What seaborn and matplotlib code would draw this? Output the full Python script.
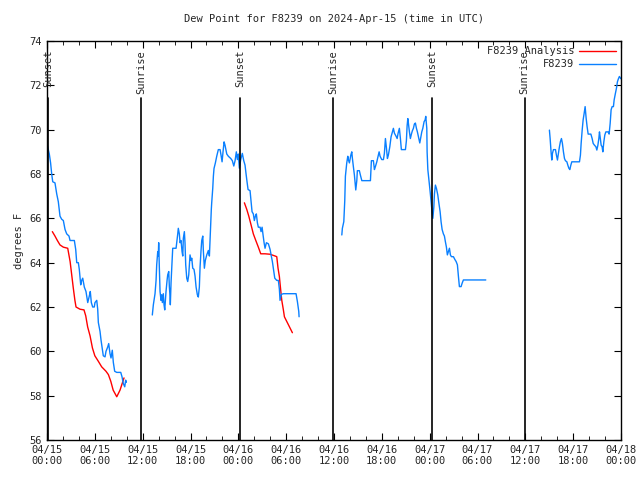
import numpy as np
import pandas as pd
import matplotlib
matplotlib.use("Agg")
import matplotlib.pyplot as plt
import matplotlib.dates as mdates
from matplotlib.lines import Line2D
import seaborn as sns

# hours after 2024-04-15 00:00 UTC, dew point in deg F
obs1_hours = [0.04, 0.29, 0.45, 0.59, 0.72, 1.00, 1.22, 1.42, 1.63, 1.84, 2.05, 2.26, 2.47, 2.76, 2.89,
              3.43, 3.60, 3.73, 3.93, 4.05, 4.23, 4.35, 4.48, 4.68, 4.89, 5.11, 5.31, 5.43, 5.56, 5.73,
              5.93, 6.02, 6.24, 6.36, 6.44, 6.65, 6.78, 6.90, 7.06, 7.28, 7.40, 7.62, 7.74, 7.90, 8.03,
              8.19, 8.32, 8.49, 8.75, 9.25, 9.41, 9.57, 9.75, 9.87, 9.95]
obs1_vals = [69.3, 68.9, 68.5, 68.0, 67.65, 67.6, 67.1, 66.75, 66.1, 65.96, 65.9, 65.5, 65.3, 65.2, 65.0,
             65.0, 64.6, 64.0, 64.0, 63.7, 63.0, 63.2, 63.3, 62.9, 62.7, 62.2, 62.5, 62.7, 62.2, 62.0,
             62.0, 62.2, 62.3, 61.9, 61.3, 60.9, 60.5, 60.2, 59.8, 59.75, 60.0, 60.2, 60.35, 59.9, 59.7,
             60.05, 59.5, 59.1, 59.05, 59.05, 58.85, 58.55, 58.4, 58.7, 58.6]

obs2_hours = [13.21, 13.34, 13.55, 13.68, 13.76, 13.89, 13.96, 14.01, 14.09, 14.18, 14.30, 14.39, 14.47,
              14.59, 14.68, 14.77, 14.89, 14.93, 15.06, 15.14, 15.27, 15.35, 15.43, 15.47, 15.56, 15.68,
              15.77, 16.19, 16.27, 16.40, 16.47, 16.60, 16.69, 16.81, 16.94, 17.03, 17.10, 17.23, 17.31,
              17.40, 17.53, 17.65, 17.78, 17.94, 18.07, 18.16, 18.28, 18.44, 18.57, 18.70, 18.86, 18.98,
              19.11, 19.20, 19.32, 19.41, 19.54, 19.61, 19.74, 19.86, 20.04, 20.24, 20.37, 20.45, 20.61,
              20.66, 20.79, 20.87, 20.95, 21.12, 21.29, 21.49, 21.71, 21.83, 21.96, 22.08, 22.21, 22.33,
              22.55, 22.75, 23.05, 23.25, 23.43, 23.59, 23.75, 23.88, 24.00, 24.13, 24.30, 24.50, 24.68,
              24.84, 24.97, 25.09, 25.22, 25.47, 25.60, 25.72, 25.88, 26.01, 26.14, 26.26, 26.39, 26.51,
              26.73, 26.85, 26.98, 27.10, 27.23, 27.35, 27.52, 27.77, 27.98, 28.11, 28.27, 28.39, 28.57,
              28.82, 29.02, 29.15, 29.23, 29.40, 29.65, 31.24, 31.41, 31.58, 31.62]
obs2_vals = [61.64, 62.1, 62.6, 63.2, 63.9, 64.5, 64.3, 64.9, 63.8, 62.7, 62.3, 62.55, 62.2,
             62.6, 62.1, 61.87, 62.5, 62.7, 63.2, 63.45, 63.6, 62.9, 62.5, 62.1, 63.1, 64.0,
             64.65, 64.65, 64.9, 65.3, 65.55, 65.3, 64.9, 65.0, 64.5, 64.3, 65.1, 65.4, 64.9,
             63.9, 63.3, 63.15, 63.45, 64.35, 64.1, 64.2, 63.75, 63.7, 63.4, 62.9, 62.55, 62.45,
             62.9, 63.8, 64.55, 65.0, 65.2, 64.55, 63.75, 64.1, 64.35, 64.55, 64.3, 65.0, 66.4,
             66.7, 67.35, 67.9, 68.25, 68.5, 68.8, 69.1, 69.1, 68.85, 68.55, 69.0, 69.45, 69.3,
             68.9, 68.8, 68.7, 68.6, 68.36, 68.6, 69.0, 68.65, 68.9, 68.26, 68.65, 68.93, 68.6,
             68.4, 68.0, 67.65, 67.3, 67.25, 66.75, 66.3, 66.2, 65.9, 66.1, 66.2, 65.8, 65.6,
             65.6, 65.4, 65.6, 65.25, 64.9, 64.65, 64.9, 64.85, 64.6, 64.35, 64.05, 63.75, 63.3,
             63.2, 63.2, 62.8, 62.3, 62.57, 62.6, 62.6, 62.24, 61.8, 61.56]

obs3_hours = [36.98, 37.05, 37.23, 37.35, 37.43, 37.60, 37.73, 37.80, 37.93, 38.11, 38.23, 38.31, 38.43,
              38.56, 38.73, 38.86, 38.93, 39.18, 39.31, 39.49, 40.57, 40.69, 40.94, 41.07, 41.19, 41.37,
              41.53, 41.66, 41.78, 41.99, 42.20, 42.32, 42.45, 42.57, 42.70, 42.82, 43.00, 43.16, 43.33,
              43.45, 43.58, 43.79, 43.92, 44.04, 44.20, 44.33, 44.45, 44.96, 45.08, 45.17, 45.26, 45.33,
              45.46, 45.58, 45.71, 45.83, 45.96, 46.08, 46.21, 46.34, 46.46, 46.64, 46.76, 46.89, 47.01,
              47.14, 47.30, 47.43, 47.51, 47.64, 47.68, 47.77, 47.93, 48.06, 48.18, 48.27, 48.40, 48.52,
              48.60, 48.72, 48.85, 49.02, 49.15, 49.31, 49.43, 49.56, 49.72, 49.85, 49.97, 50.10, 50.22,
              50.35, 50.48, 50.60, 50.73, 50.98, 51.15, 51.32, 51.48, 51.61, 51.73, 51.94, 52.07, 52.23,
              55.04]
obs3_vals = [65.25, 65.55, 65.85, 66.8, 67.9, 68.5, 68.8, 68.65, 68.5, 68.85, 69.0, 68.7, 68.33,
             67.95, 67.28, 67.7, 68.15, 68.15, 67.95, 67.7, 67.7, 68.6, 68.6, 68.2, 68.33, 68.55,
             68.8, 69.0, 68.8, 68.65, 68.65, 68.93, 69.6, 69.2, 68.7, 68.85, 69.23, 69.68, 69.9,
             70.06, 69.84, 69.7, 69.6, 69.84, 70.06, 69.6, 69.1, 69.1, 69.5, 70.17, 70.5, 70.3,
             69.9, 69.6, 69.8, 69.95, 70.06, 70.25, 70.3, 70.06, 69.9, 69.6, 69.4, 69.66, 69.9,
             70.06, 70.36, 70.44, 70.6, 70.06, 69.0, 68.2, 67.65, 67.2, 66.75, 66.4, 66.0, 66.5,
             67.1, 67.5, 67.35, 67.05, 66.7, 66.3, 65.85, 65.5, 65.3, 65.2, 64.95, 64.7, 64.35,
             64.5, 64.65, 64.35, 64.27, 64.27, 64.15, 64.05, 63.9, 63.37, 62.92, 62.92, 63.07, 63.22,
             63.22]

obs4_hours = [63.02, 63.11, 63.24, 63.32, 63.40, 63.53, 63.78, 63.90, 64.03, 64.15, 64.28, 64.40, 64.53,
              64.65, 64.78, 64.91, 65.03, 65.21, 65.33, 65.46, 65.58, 65.71, 65.83, 66.79, 66.91, 67.00,
              67.13, 67.25, 67.38, 67.50, 67.63, 67.75, 67.88, 68.22, 68.38, 68.51, 68.67, 68.85, 68.97,
              69.10, 69.22, 69.30, 69.38, 69.51, 69.63, 69.72, 69.85, 69.97, 70.10, 70.39, 70.51, 70.64,
              70.76, 70.89, 71.05, 71.14, 71.30, 71.43, 71.55, 71.68, 71.80, 71.98]
obs4_vals = [69.98, 69.6, 68.93, 68.63, 68.93, 69.1, 69.1, 68.85, 68.63, 68.93, 69.23, 69.46, 69.6,
             69.38, 69.0, 68.7, 68.6, 68.55, 68.4, 68.26, 68.2, 68.4, 68.55, 68.55, 68.85, 69.38,
             69.98, 70.44, 70.74, 71.04, 70.51, 70.13, 69.8, 69.8, 69.6, 69.38, 69.3, 69.23, 69.08,
             69.3, 69.6, 69.9, 69.68, 69.3, 69.23, 69.0, 69.46, 69.76, 69.9, 69.9, 69.8, 70.28,
             70.9, 71.04, 71.04, 71.34, 71.64, 71.87, 72.16, 72.3, 72.4, 72.3]

ana1_hours = [0.67, 1.0, 1.3, 1.63, 2.05, 2.6, 2.9, 3.1, 3.3, 3.5, 3.64, 4.14, 4.64, 4.86, 5.1, 5.4,
              5.7, 6.0, 6.44, 6.86, 7.4, 7.7, 8.0, 8.3, 8.75, 9.16, 9.66]
ana1_vals = [65.4, 65.2, 65.0, 64.8, 64.7, 64.65, 64.05, 63.45, 62.85, 62.3, 62.0, 61.9, 61.87, 61.6,
             61.1, 60.7, 60.15, 59.8, 59.55, 59.3, 59.1, 58.95, 58.65, 58.25, 57.95, 58.25, 58.8]
ana2_hours = [24.76, 25.06, 25.31, 25.60, 25.88, 26.19, 26.51, 26.81, 27.35, 27.98, 28.61, 28.82,
              28.98, 29.15, 29.23, 29.36, 29.45, 29.65, 29.78, 29.86, 30.28, 30.78]
ana2_vals = [66.7, 66.4, 66.1, 65.7, 65.3, 65.0, 64.7, 64.4, 64.4, 64.38, 64.3, 64.27,
             63.75, 63.37, 63.07, 62.6, 62.3, 61.87, 61.56, 61.5, 61.2, 60.84]

sun_labels = ["Sunset", "Sunrise", "Sunset", "Sunrise", "Sunset", "Sunrise"]
sun_hours = [0.17, 11.8, 24.2, 35.9, 48.3, 59.9]

obs_color = "#0a80ff"
ana_color = "#ff0000"
start = pd.Timestamp("2024-04-15 00:00")


def to_frame(segments):
    # one frame, one 'seg' id per gap-free stretch of data
    parts = []
    for i, (hrs, vals) in enumerate(segments):
        parts.append(pd.DataFrame({
            "time": start + pd.to_timedelta(hrs, unit="h"),
            "value": vals,
            "seg": i,
        }))
    return pd.concat(parts, ignore_index=True)


obs = to_frame([(obs1_hours, obs1_vals), (obs2_hours, obs2_vals),
                (obs3_hours, obs3_vals), (obs4_hours, obs4_vals)])
ana = to_frame([(ana1_hours, ana1_vals), (ana2_hours, ana2_vals)])

sns.set_style("ticks")
plt.rcParams["font.family"] = ["DejaVu Sans Mono"]
plt.rcParams["font.size"] = 7.5

fig = plt.figure(figsize=(6.4, 4.8), dpi=100)
ax = fig.add_axes([47 / 640, 40 / 480, 574 / 640, 399 / 480])

sns.lineplot(data=ana, x="time", y="value", units="seg", estimator=None,
             color=ana_color, linewidth=1, ax=ax, legend=False)
sns.lineplot(data=obs, x="time", y="value", units="seg", estimator=None,
             color=obs_color, linewidth=1, ax=ax, legend=False)

# sunrise / sunset markers
for lbl, h in zip(sun_labels, sun_hours):
    t = start + pd.Timedelta(hours=h)
    ax.plot([t, t], [56, 71.45], color="black", linewidth=1.2)
    ax.text(t, 73.6, lbl, rotation=90, ha="center", va="top", fontsize=7.5)

ax.set_xlim(start, start + pd.Timedelta(hours=72))
ax.set_ylim(56, 74)
ax.set_yticks(np.arange(56, 75, 2))
ax.xaxis.set_major_locator(mdates.HourLocator(byhour=[0, 6, 12, 18]))
ax.xaxis.set_minor_locator(mdates.HourLocator(interval=2))
ax.xaxis.set_major_formatter(mdates.DateFormatter("%m/%d\n%H:%M"))
ax.tick_params(axis="both", which="both", direction="in", top=True, right=True,
               labelsize=7.5, color="black")
ax.tick_params(which="major", length=5)
ax.tick_params(which="minor", length=3)
for s in ax.spines.values():
    s.set_color("black")
    s.set_linewidth(1)

ax.set_xlabel("")
ax.set_ylabel("degrees F", fontsize=7.5)
ax.set_title("Dew Point for F8239 on 2024-Apr-15 (time in UTC)", fontsize=7.5, pad=14)

handles = [Line2D([], [], color=ana_color, linewidth=1),
           Line2D([], [], color=obs_color, linewidth=1)]
ax.legend(handles, ["F8239 Analysis", "F8239"], loc="upper right", frameon=False,
          markerfirst=False, fontsize=7.5, handlelength=3.5, borderaxespad=0.1,
          labelspacing=0.3, handletextpad=0.5)

fig.savefig("out.png", dpi=100)
